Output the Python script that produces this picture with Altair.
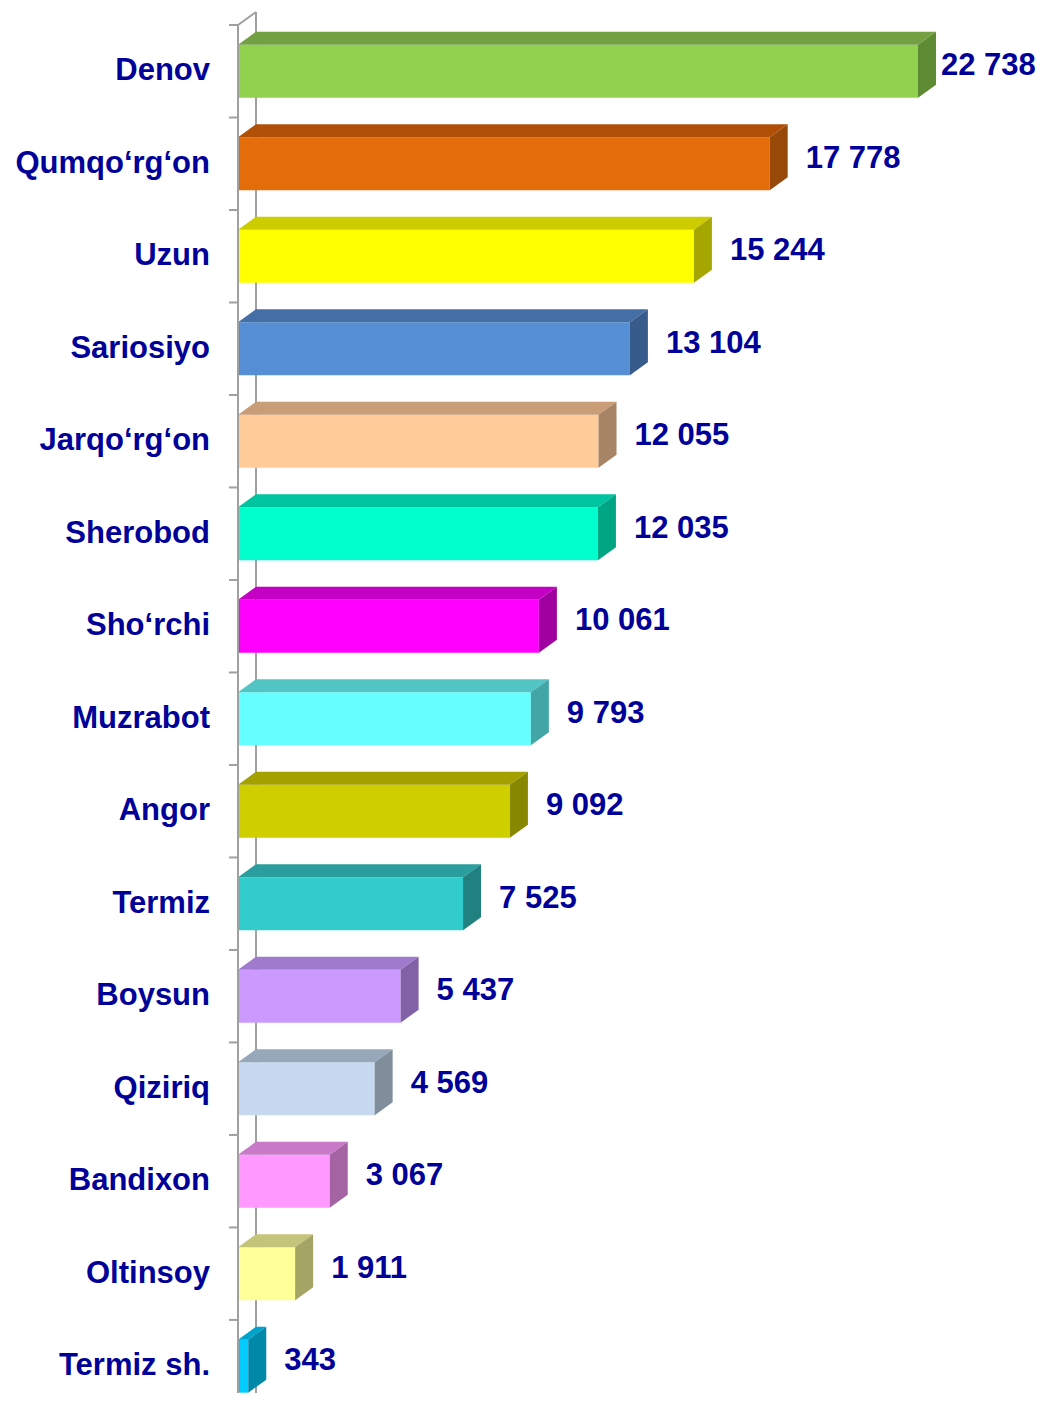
import altair as alt
import pandas as pd

# ---------------- data ----------------
categories = ["Denov", "Qumqo\u2018rg\u2018on", "Uzun", "Sariosiyo", "Jarqo\u2018rg\u2018on",
              "Sherobod", "Sho\u2018rchi", "Muzrabot", "Angor", "Termiz", "Boysun",
              "Qiziriq", "Bandixon", "Oltinsoy", "Termiz sh."]
values = [22738, 17778, 15244, 13104, 12055, 12035, 10061, 9793, 9092, 7525,
          5437, 4569, 3067, 1911, 343]

# ---------------- styles ----------------
front_colors = ["#92D050", "#E46C0A", "#FFFF00", "#558ED5", "#FFCC99", "#00FFCC", "#FF00FF",
                "#66FFFF", "#CFCF00", "#33CCCC", "#CC99FF", "#C6D9F1", "#FF99FF", "#FFFF99", "#00CCFF"]
top_colors = ["#72A043", "#B05006", "#CCCC00", "#446FA6", "#C89D78", "#00C4A0", "#C400C4",
              "#52C4C4", "#A3A000", "#2A9E9E", "#A07ACC", "#97A8BA", "#C87AC8", "#C4C47A", "#00A3CC"]
side_colors = ["#5E8A34", "#984807", "#A6A600", "#375B8A", "#A68464", "#00A583", "#A000A0",
               "#43A6A6", "#888800", "#218080", "#8262A6", "#808E9C", "#A464A4", "#A4A464", "#0088A8"]
TEXT_COLOR = "#000099"
WALL_COLOR = "#A0A0A0"
FONT = "Liberation Sans"

# ---------------- geometry (pixels -> data units) ----------------
W = 800
XMAX = 26750
BAND = 92.5          # px per category
YMIN, YMAX = -0.5, 14.29
H = round((YMAX - YMIN) * BAND)
kx = W / XMAX
DXU = 18 / kx        # depth in x (data units)
DYU = 13 / BAND      # depth in y (category units)
HALF = 26.5 / BAND   # half of bar front face height
GAP = 18 / kx        # gap between bar side and value label
LABEL_ROOM = 97 / kx # keep value labels inside the chart

xs = alt.Scale(domain=[0, XMAX], nice=False, zero=False)
ys = alt.Scale(domain=[YMIN, YMAX], nice=False, zero=False, reverse=True)

n = len(categories)
base = pd.DataFrame({"cat": categories, "value": values, "idx": list(range(n))})
base["x0"] = 0.0
base["y0"] = base["idx"] - HALF
base["y1"] = base["idx"] + HALF
base["xl"] = [min(v + DXU + GAP, XMAX - LABEL_ROOM) for v in values]
base["label"] = [f"{v:,}".replace(",", " ") for v in values]

top_rows, side_rows = [], []
for c, v, i in zip(categories, values, range(n)):
    top_rows.append({"cat": c, "y": i - HALF, "xa": 0.0, "xb": v})
    top_rows.append({"cat": c, "y": i - HALF - DYU, "xa": DXU, "xb": v + DXU})
    side_rows.append({"cat": c, "x": v, "ya": i - HALF, "yb": i + HALF})
    side_rows.append({"cat": c, "x": v + DXU, "ya": i - HALF - DYU, "yb": i + HALF - DYU})
top_df = pd.DataFrame(top_rows)
side_df = pd.DataFrame(side_rows)

back_df = pd.DataFrame({
    "xa": [DXU, 0.0],
    "ya": [-0.5 - DYU, -0.5],
    "xb": [DXU, DXU],
    "yb": [YMAX + 1, -0.5 - DYU],
})
front_line_df = pd.DataFrame({"xa": [0.0], "ya": [-0.5], "xb": [0.0], "yb": [YMAX + 1]})
ticks_df = pd.DataFrame({"yb": [k - 0.5 for k in range(n + 1)]})


def cscale(rng):
    return alt.Color("cat:N", scale=alt.Scale(domain=categories, range=rng), legend=None)


def wall_rules(df):
    return alt.Chart(df).mark_rule(color=WALL_COLOR, strokeWidth=2).encode(
        x=alt.X("xa:Q", scale=xs, axis=None), y=alt.Y("ya:Q", scale=ys, axis=None),
        x2="xb:Q", y2="yb:Q")


back_wall = wall_rules(back_df)
front_wall = wall_rules(front_line_df)

ticks = alt.Chart(ticks_df).mark_rule(color=WALL_COLOR, strokeWidth=2).encode(
    y=alt.Y("yb:Q", scale=ys, axis=None), x=alt.value(-9), x2=alt.value(0))

front = alt.Chart(base).mark_rect().encode(
    x=alt.X("x0:Q", scale=xs, axis=None, stack=None), x2="value:Q",
    y=alt.Y("y0:Q", scale=ys, axis=None), y2="y1:Q",
    color=cscale(front_colors))

top = alt.Chart(top_df).mark_area(orient="horizontal").encode(
    y=alt.Y("y:Q", scale=ys, axis=None),
    x=alt.X("xa:Q", scale=xs, axis=None, stack=None), x2="xb:Q",
    color=cscale(top_colors), detail="cat:N")

side = alt.Chart(side_df).mark_area(orient="vertical").encode(
    x=alt.X("x:Q", scale=xs, axis=None),
    y=alt.Y("ya:Q", scale=ys, axis=None, stack=None), y2="yb:Q",
    color=cscale(side_colors), detail="cat:N")

cat_text = alt.Chart(base).mark_text(
    align="right", baseline="middle", font=FONT, fontWeight="bold",
    fontSize=31, color=TEXT_COLOR).encode(
    x=alt.value(-28), y=alt.Y("idx:Q", scale=ys, axis=None), text="cat:N")

val_text = alt.Chart(base).mark_text(
    align="left", baseline="middle", dy=-5, font=FONT, fontWeight="bold",
    fontSize=31, color=TEXT_COLOR).encode(
    x=alt.X("xl:Q", scale=xs, axis=None), y=alt.Y("idx:Q", scale=ys, axis=None),
    text="label:N")

chart = alt.layer(back_wall, ticks, front, top, side, front_wall, cat_text, val_text).resolve_scale(
    color="independent"
).properties(
    width=W, height=H,
    autosize=alt.AutoSizeParams(type="none"),
    padding={"left": 230, "top": 17, "right": 0, "bottom": 0},
    background="white",
).configure_view(stroke=None)

chart.save("out.html", embed_options={"renderer": "svg", "actions": False})
